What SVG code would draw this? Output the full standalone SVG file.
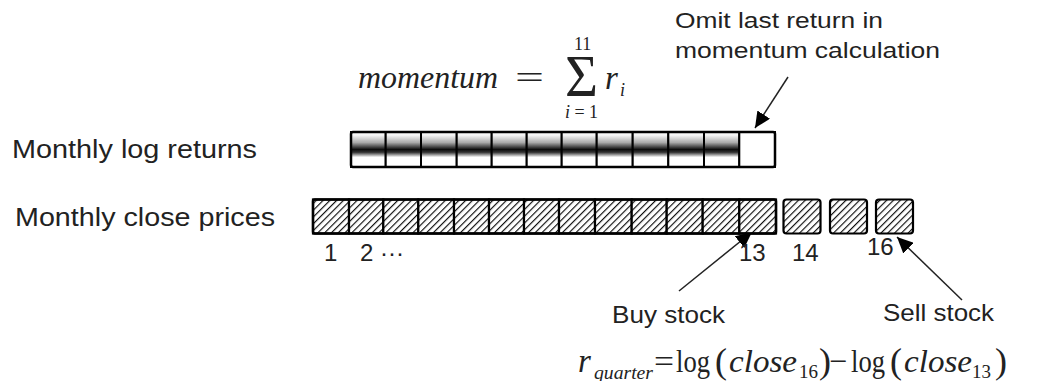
<svg xmlns="http://www.w3.org/2000/svg" width="1047" height="381" viewBox="0 0 1047 381">
<defs>
<style>
.lbl{font-family:"Liberation Sans",Arial,sans-serif;fill:#222}
.m{font-family:"Liberation Serif","Times New Roman",serif;fill:#222}
.it{font-style:italic}
.cell{fill:url(#band);stroke:#000;stroke-width:2}
.hcell{fill:url(#hatch);stroke:#000;stroke-width:2.2}
.outer{fill:none;stroke:#000;stroke-width:2.5}
.conn{stroke:#222;stroke-width:1.5;fill:none;marker-end:url(#ah)}
</style>
<linearGradient id="band" x1="0" y1="0" x2="0" y2="1">
<stop offset="0" stop-color="#fff"/>
<stop offset="0.1" stop-color="#f2f2f2"/>
<stop offset="0.3" stop-color="#aaa"/>
<stop offset="0.5" stop-color="#0d0d0d"/>
<stop offset="0.58" stop-color="#333"/>
<stop offset="0.72" stop-color="#fff"/>
<stop offset="1" stop-color="#fff"/>
</linearGradient>
<pattern id="hatch" patternUnits="userSpaceOnUse" width="4.8" height="4.8" patternTransform="rotate(45)">
<rect width="4.8" height="4.8" fill="#fff"/>
<line x1="0.6" y1="0" x2="0.6" y2="4.8" stroke="#000" stroke-width="1.1"/>
</pattern>
<marker id="ah" markerWidth="17" markerHeight="15" refX="16" refY="7.5" orient="auto" markerUnits="userSpaceOnUse">
<path d="M0,0 L16,7.5 L0,15 z" fill="#000"/>
</marker>
</defs>
<rect width="1047" height="381" fill="#fff"/>

<g id="connectors">
<line class="conn" x1="788" y1="77" x2="755" y2="128"/>
<line class="conn" x1="679" y1="291" x2="752" y2="232"/>
<line class="conn" x1="962" y1="300" x2="897" y2="237"/>
</g>

<g id="returns-bar">
<rect class="cell" x="351" y="132" width="34.7" height="35"/>
<rect class="cell" x="385.7" y="132" width="35.3" height="35"/>
<rect class="cell" x="421" y="132" width="35.7" height="35"/>
<rect class="cell" x="456.7" y="132" width="35" height="35"/>
<rect class="cell" x="491.7" y="132" width="35" height="35"/>
<rect class="cell" x="526.7" y="132" width="35" height="35"/>
<rect class="cell" x="561.7" y="132" width="35" height="35"/>
<rect class="cell" x="596.7" y="132" width="36" height="35"/>
<rect class="cell" x="632.7" y="132" width="35.6" height="35"/>
<rect class="cell" x="668.3" y="132" width="35.7" height="35"/>
<rect class="cell" x="704" y="132" width="35.3" height="35"/>
<rect x="739.3" y="132" width="35.7" height="35" fill="#fff" stroke="#000" stroke-width="2"/>
<rect class="outer" x="351" y="132" width="424" height="35" rx="2"/>
</g>

<g id="prices-bar">
<rect class="hcell" x="313" y="199.5" width="36" height="34"/>
<rect class="hcell" x="349" y="199.5" width="34.3" height="34"/>
<rect class="hcell" x="383.3" y="199.5" width="35" height="34"/>
<rect class="hcell" x="418.3" y="199.5" width="35.7" height="34"/>
<rect class="hcell" x="454" y="199.5" width="35" height="34"/>
<rect class="hcell" x="489" y="199.5" width="35" height="34"/>
<rect class="hcell" x="524" y="199.5" width="35" height="34"/>
<rect class="hcell" x="559" y="199.5" width="36" height="34"/>
<rect class="hcell" x="595" y="199.5" width="36.7" height="34"/>
<rect class="hcell" x="631.7" y="199.5" width="35" height="34"/>
<rect class="hcell" x="666.7" y="199.5" width="36" height="34"/>
<rect class="hcell" x="702.7" y="199.5" width="36.6" height="34"/>
<rect class="hcell" x="739.3" y="199.5" width="36.7" height="34"/>
<rect class="outer" x="313" y="199.5" width="463" height="34" rx="2"/>
</g>

<g id="month14"><rect class="hcell" x="783.5" y="199.5" width="37" height="34" rx="3" stroke-width="2.5"/></g>
<g id="month15"><rect class="hcell" x="830" y="199.5" width="37" height="34" rx="3" stroke-width="2.5"/></g>
<g id="month16"><rect class="hcell" x="876" y="199.5" width="37" height="34" rx="3" stroke-width="2.5"/></g>

<g id="labels">
<text class="lbl" x="12" y="158" font-size="25.5" textLength="245" lengthAdjust="spacingAndGlyphs">Monthly log returns</text>
<text class="lbl" x="15" y="226" font-size="25.5" textLength="260" lengthAdjust="spacingAndGlyphs">Monthly close prices</text>
</g>

<g id="omit-note">
<text class="lbl" x="675" y="28" font-size="22" textLength="208" lengthAdjust="spacingAndGlyphs">Omit last return in</text>
<text class="lbl" x="675" y="58" font-size="22" textLength="265" lengthAdjust="spacingAndGlyphs">momentum calculation</text>
</g>

<g id="index-labels">
<text class="lbl" x="324" y="261" font-size="24">1</text>
<text class="lbl" x="360" y="261" font-size="24">2 ···</text>
<text class="lbl" x="739" y="261" font-size="24">13</text>
<text class="lbl" x="792" y="261" font-size="24">14</text>
<text class="lbl" x="867" y="255" font-size="24">16</text>
</g>

<g id="buy">
<text class="lbl" x="612" y="323" font-size="24" textLength="113" lengthAdjust="spacingAndGlyphs">Buy stock</text>
</g>
<g id="sell">
<text class="lbl" x="883" y="321" font-size="24" textLength="111" lengthAdjust="spacingAndGlyphs">Sell stock</text>
</g>

<g id="momentum-formula">
<text class="m it" x="358" y="88" font-size="32" textLength="140" lengthAdjust="spacingAndGlyphs">momentum</text>
<text class="m" x="515" y="88" font-size="32" textLength="29" lengthAdjust="spacingAndGlyphs">=</text>
<text class="m" x="565" y="96" font-size="60" textLength="33" lengthAdjust="spacingAndGlyphs">Σ</text>
<text class="m" x="574" y="50" font-size="18">11</text>
<text class="m" x="565" y="118" font-size="18" textLength="33" lengthAdjust="spacing"><tspan class="it">i</tspan>=1</text>
<text class="m it" x="605" y="89" font-size="33">r</text>
<text class="m it" x="620" y="96" font-size="18">i</text>
</g>

<g id="quarter-formula">
<text class="m it" x="578" y="372" font-size="33">r</text>
<text class="m it" x="594" y="379" font-size="19" textLength="59" lengthAdjust="spacingAndGlyphs">quarter</text>
<text class="m" x="654" y="372" font-size="32" textLength="20" lengthAdjust="spacingAndGlyphs">=</text>
<text class="m" x="676" y="372" font-size="32" textLength="34" lengthAdjust="spacingAndGlyphs">log</text>
<text class="m" x="715" y="373" font-size="36">(</text>
<text class="m it" x="729" y="372" font-size="32" textLength="68" lengthAdjust="spacingAndGlyphs">close</text>
<text class="m" x="799" y="378" font-size="19">16</text>
<text class="m" x="819" y="373" font-size="36">)</text>
<text class="m" x="829" y="372" font-size="32">−</text>
<text class="m" x="851" y="372" font-size="32" textLength="34" lengthAdjust="spacingAndGlyphs">log</text>
<text class="m" x="890" y="373" font-size="36">(</text>
<text class="m it" x="904" y="372" font-size="32" textLength="68" lengthAdjust="spacingAndGlyphs">close</text>
<text class="m" x="972" y="378" font-size="19">13</text>
<text class="m" x="995" y="373" font-size="36">)</text>
</g>
</svg>
